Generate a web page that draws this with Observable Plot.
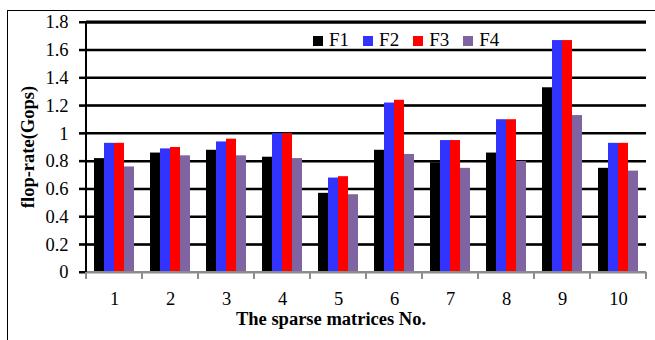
<!DOCTYPE html>
<html>
<head>
<meta charset="utf-8">
<script src="https://cdn.jsdelivr.net/npm/d3@7"></script>
<script src="https://cdn.jsdelivr.net/npm/@observablehq/plot@0.6"></script>
<style>
  body { margin: 0; background: #fff; color: #000; font-family: "Liberation Serif", serif; }
  #chart svg { font-family: "Liberation Serif", serif !important; font-size: 18.5px !important; }
  #border { position: absolute; left: 7px; top: 10px; width: 648px; height: 330px; pointer-events: none;
            border-top: 1.5px solid #000; border-left: 1.5px solid #000; box-sizing: border-box; }
  #legend { position: absolute; left: 313px; top: 30px; display: flex; gap: 14px; font-size: 19px; line-height: 20px; }
  #legend .item { display: flex; align-items: center; }
  #legend .sw { width: 10px; height: 10px; margin-right: 6px; margin-top: 2px; }
  #xtitle { position: absolute; left: 0; width: 662px; top: 309px; text-align: center;
            font-weight: bold; font-size: 18.5px; }
  #ytitle { position: absolute; left: 28px; top: 147px; transform: translate(-50%, -50%) rotate(-90deg);
            white-space: nowrap; font-weight: bold; font-size: 18.5px; }
</style>
</head>
<body>
<div id="chart"></div>
<div id="border"></div>
<div id="legend"></div>
<div id="xtitle"></div>
<div id="ytitle"></div>
<script>
const categories = ["1", "2", "3", "4", "5", "6", "7", "8", "9", "10"];
const series = ["F1", "F2", "F3", "F4"];
const F1 = [0.82, 0.86, 0.88, 0.83, 0.57, 0.88, 0.79, 0.86, 1.33, 0.75];
const F2 = [0.93, 0.89, 0.94, 1.00, 0.68, 1.22, 0.95, 1.10, 1.67, 0.93];
const F3 = [0.93, 0.90, 0.96, 1.00, 0.69, 1.24, 0.95, 1.10, 1.67, 0.93];
const F4 = [0.76, 0.84, 0.84, 0.82, 0.56, 0.85, 0.75, 0.80, 1.13, 0.73];
const colors = ["#000000", "#3333ff", "#ff0000", "#8064a2"];
const yTicks = [0, 0.2, 0.4, 0.6, 0.8, 1.0, 1.2, 1.4, 1.6, 1.8];
const xTitle = "The sparse matrices No.";
const yTitle = "flop-rate(Gops)";

const seriesValues = [F1, F2, F3, F4];
const table = [];
categories.forEach((c, i) => {
  series.forEach((s, j) => table.push({cat: c, series: s, value: seriesValues[j][i]}));
});
const yMax = yTicks[yTicks.length - 1];
const grid = yTicks.filter(d => d > 0);

const plot = Plot.plot({
  width: 655,
  height: 340,
  marginLeft: 86,
  marginRight: 9,
  marginTop: 22,
  marginBottom: 68,
  fx: {domain: categories, padding: 0, round: false, label: null},
  x: {domain: series, paddingInner: 0, paddingOuter: 0.8, round: false, axis: null},
  y: {domain: [0, yMax], label: null},
  color: {domain: series, range: colors},
  marks: [
    Plot.ruleY(grid, {stroke: "#000", strokeWidth: 2}),
    Plot.barY(table, {fx: "cat", x: "series", y: "value", fill: "series"}),
    Plot.ruleY([0], {stroke: "#8c8c8c", strokeWidth: 2}),
    Plot.axisY(yTicks, {anchor: "left", tickSize: 7, tickPadding: 11, strokeWidth: 2, stroke: "#000", fill: "#000",
      tickFormat: d => String(+d.toFixed(1)), label: null}),
    Plot.axisFx({anchor: "bottom", tickSize: 0, tickPadding: 19, fill: "#000", label: null})
  ]
});
document.getElementById("chart").appendChild(plot);

// lines positioned through the plot's own scales
const fx = plot.scale("fx");
const y = plot.scale("y");
const svg = d3.select(plot);
const bounds = categories.map(c => fx.apply(c)).concat([fx.apply(categories[categories.length - 1]) + fx.bandwidth]);
const xLeft = bounds[0], xRight = bounds[bounds.length - 1];

// gridlines, placed beneath the bars
const gridG = document.createElementNS("http://www.w3.org/2000/svg", "g");
const barG = plot.querySelector('g[aria-label="bar"]');
barG.parentNode.insertBefore(gridG, barG);
d3.select(gridG).selectAll("line").data(grid).join("line")
  .attr("x1", xLeft).attr("x2", xRight)
  .attr("y1", d => y.apply(d)).attr("y2", d => y.apply(d))
  .attr("stroke", "#000").attr("stroke-width", d => d === yMax ? 3 : 2);

// zero baseline, y-axis line, y ticks, category boundary ticks
svg.append("line")
  .attr("x1", xLeft).attr("x2", xRight)
  .attr("y1", y.apply(0)).attr("y2", y.apply(0))
  .attr("stroke", "#8c8c8c").attr("stroke-width", 2);
svg.append("line")
  .attr("x1", xLeft).attr("x2", xLeft)
  .attr("y1", y.apply(yMax)).attr("y2", y.apply(0))
  .attr("stroke", "#000").attr("stroke-width", 2);
svg.append("g").selectAll("line").data(yTicks).join("line")
  .attr("x1", xLeft - 7).attr("x2", xLeft)
  .attr("y1", d => y.apply(d)).attr("y2", d => y.apply(d))
  .attr("stroke", "#000").attr("stroke-width", 2);
svg.append("g").selectAll("line").data(bounds).join("line")
  .attr("x1", d => d).attr("x2", d => d)
  .attr("y1", y.apply(0)).attr("y2", y.apply(0) + 7)
  .attr("stroke", "#8c8c8c").attr("stroke-width", 2);

// legend
const legend = d3.select("#legend");
series.forEach((s, i) => {
  const item = legend.append("div").attr("class", "item");
  item.append("div").attr("class", "sw").style("background", colors[i]);
  item.append("span").text(s);
});
document.getElementById("xtitle").textContent = xTitle;
document.getElementById("ytitle").textContent = yTitle;
</script>
</body>
</html>
